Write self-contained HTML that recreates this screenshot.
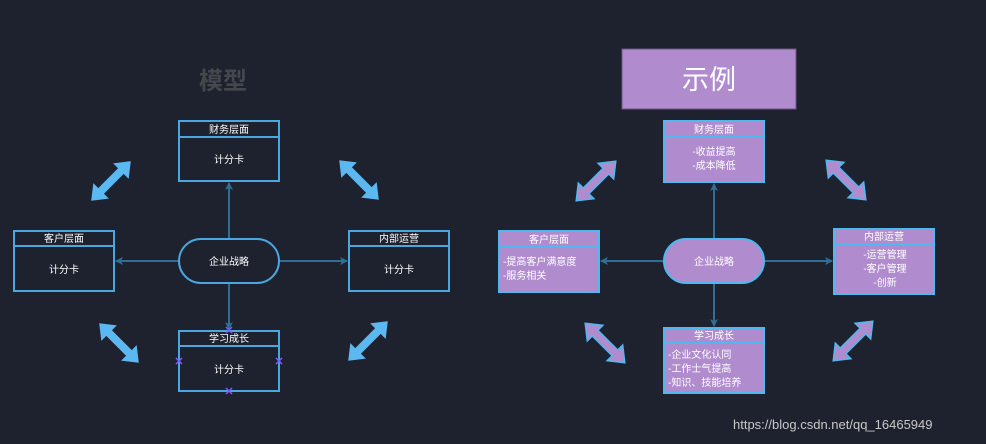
<!DOCTYPE html>
<html><head><meta charset="utf-8"><style>
html,body{margin:0;padding:0;background:#1e222e;}
svg{display:block}
text{font-family:"Liberation Sans","Noto Sans CJK SC",sans-serif;fill:#fff;}
</style></head><body>
<svg width="986" height="444" viewBox="0 0 986 444" xmlns="http://www.w3.org/2000/svg">
<defs>
<polygon id="da" points="-28,0 -14,-11 -14,-4 14,-4 14,-11 28,0 14,11 14,4 -14,4 -14,11"/>
<marker id="ah" markerWidth="8" markerHeight="8" refX="7" refY="4" orient="auto" markerUnits="userSpaceOnUse"><path d="M0,0 L8,4 L0,8 L2,4 Z" fill="#2f6f95"/></marker>
</defs>
<rect width="986" height="444" fill="#1e222e"/>
<!-- LEFT -->
<text x="223" y="89" font-size="24" font-weight="bold" text-anchor="middle" style="fill:#45474d">模型</text>
<g stroke="#2f6f95" stroke-width="2" fill="none">
<line x1="229" y1="239" x2="229" y2="183" marker-end="url(#ah)"/>
<line x1="229" y1="283" x2="229" y2="329" marker-end="url(#ah)"/>
<line x1="179" y1="261" x2="116" y2="261" marker-end="url(#ah)"/>
<line x1="279" y1="261" x2="347" y2="261" marker-end="url(#ah)"/>
</g>
<g stroke="#4aa8e0" stroke-width="2" fill="#1e222e">
<rect x="179" y="121" width="100" height="60"/><line x1="179" y1="137" x2="279" y2="137"/>
<rect x="14" y="231" width="100" height="60"/><line x1="14" y1="246" x2="114" y2="246"/>
<rect x="349" y="231" width="100" height="60"/><line x1="349" y1="246" x2="449" y2="246"/>
<rect x="179" y="331" width="100" height="60"/><line x1="179" y1="346" x2="279" y2="346"/>
<rect x="179" y="239" width="100" height="44" rx="22"/>
</g>
<g font-size="10" text-anchor="middle">
<text x="229" y="133">财务层面</text><text x="229" y="163">计分卡</text>
<text x="64" y="242">客户层面</text><text x="64" y="273">计分卡</text>
<text x="399" y="242">内部运营</text><text x="399" y="273">计分卡</text>
<text x="229" y="342">学习成长</text><text x="229" y="373">计分卡</text>
<text x="229" y="265">企业战略</text>
</g>
<g stroke="#7a5cff" stroke-width="1.5">
<path d="M226,327 l6,6 M232,327 l-6,6"/><path d="M176,358 l6,6 M182,358 l-6,6"/>
<path d="M276,358 l6,6 M282,358 l-6,6"/><path d="M226,388 l6,6 M232,388 l-6,6"/>
</g>
<g fill="#5bb8f0">
<use href="#da" transform="translate(111,181) rotate(-45)"/>
<use href="#da" transform="translate(359,180) rotate(45)"/>
<use href="#da" transform="translate(119,343) rotate(45)"/>
<use href="#da" transform="translate(368,341) rotate(-45)"/>
</g>
<!-- RIGHT -->
<rect x="622" y="49" width="174" height="60" fill="#b08ccf" stroke="#6b5580" stroke-width="1"/>
<text x="709" y="89" font-size="27" text-anchor="middle">示例</text>
<g stroke="#2f6f95" stroke-width="2" fill="none">
<line x1="714" y1="239" x2="714" y2="184" marker-end="url(#ah)"/>
<line x1="714" y1="283" x2="714" y2="326" marker-end="url(#ah)"/>
<line x1="664" y1="261" x2="601" y2="261" marker-end="url(#ah)"/>
<line x1="764" y1="261" x2="832" y2="261" marker-end="url(#ah)"/>
</g>
<g stroke="#4fb8ee" stroke-width="2" fill="#b08ccf">
<rect x="664" y="121" width="100" height="61"/><line x1="664" y1="137" x2="764" y2="137"/>
<rect x="499" y="231" width="100" height="61"/><line x1="499" y1="247" x2="599" y2="247"/>
<rect x="834" y="229" width="100" height="65"/><line x1="834" y1="244" x2="934" y2="244"/>
<rect x="664" y="328" width="100" height="65"/><line x1="664" y1="343" x2="764" y2="343"/>
<rect x="664" y="239" width="100" height="44" rx="22"/>
</g>
<g font-size="10" text-anchor="middle">
<text x="714" y="133">财务层面</text>
<text x="549" y="243">客户层面</text>
<text x="884" y="240">内部运营</text>
<text x="714" y="339">学习成长</text>
<text x="714" y="265">企业战略</text>
<text x="714" y="155">-收益提高</text><text x="714" y="169">-成本降低</text>
<text x="885" y="258">-运营管理</text><text x="885" y="272">-客户管理</text><text x="885" y="286">-创新</text>
</g>
<g font-size="10">
<text x="503" y="265">-提高客户满意度</text><text x="503" y="279">-服务相关</text>
<text x="668" y="358">-企业文化认同</text><text x="668" y="372">-工作士气提高</text><text x="668" y="386">-知识、技能培养</text>
</g>
<g fill="#b08ccf" stroke="#4fb8ee" stroke-width="1.5">
<use href="#da" transform="translate(596,181) rotate(-45)"/>
<use href="#da" transform="translate(846,180) rotate(45)"/>
<use href="#da" transform="translate(605,343) rotate(45)"/>
<use href="#da" transform="translate(853,341) rotate(-45)"/>
</g>
<text x="733" y="429" font-size="13" style="fill:#c8c8c8">https://blog.csdn.net/qq_16465949</text>
</svg>
</body></html>
